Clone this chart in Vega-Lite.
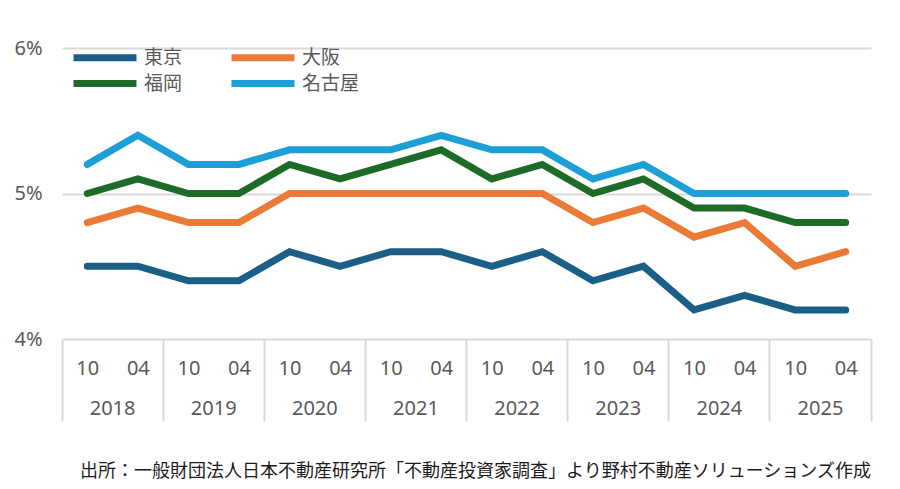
{
  "$schema": "https://vega.github.io/schema/vega-lite/v6.json",
  "width": 809,
  "height": 291,
  "autosize": {"type": "none"},
  "padding": {"left": 62, "top": 48, "right": 29, "bottom": 150},
  "background": "#ffffff",
  "title": {
    "text": "出所：一般財団法人日本不動産研究所「不動産投資家調査」より野村不動産ソリューションズ作成",
    "orient": "bottom",
    "anchor": "end",
    "frame": "group",
    "offset": 41,
    "font": "Noto Sans CJK JP",
    "fontSize": 18,
    "fontWeight": "normal",
    "color": "#1a1a1a"
  },
  "data": {
    "values": [
      {"period": "2018-10", "year": "2018", "city": "東京", "rate": 4.5},
      {"period": "2018-04", "year": "2018", "city": "東京", "rate": 4.5},
      {"period": "2019-10", "year": "2019", "city": "東京", "rate": 4.4},
      {"period": "2019-04", "year": "2019", "city": "東京", "rate": 4.4},
      {"period": "2020-10", "year": "2020", "city": "東京", "rate": 4.6},
      {"period": "2020-04", "year": "2020", "city": "東京", "rate": 4.5},
      {"period": "2021-10", "year": "2021", "city": "東京", "rate": 4.6},
      {"period": "2021-04", "year": "2021", "city": "東京", "rate": 4.6},
      {"period": "2022-10", "year": "2022", "city": "東京", "rate": 4.5},
      {"period": "2022-04", "year": "2022", "city": "東京", "rate": 4.6},
      {"period": "2023-10", "year": "2023", "city": "東京", "rate": 4.4},
      {"period": "2023-04", "year": "2023", "city": "東京", "rate": 4.5},
      {"period": "2024-10", "year": "2024", "city": "東京", "rate": 4.2},
      {"period": "2024-04", "year": "2024", "city": "東京", "rate": 4.3},
      {"period": "2025-10", "year": "2025", "city": "東京", "rate": 4.2},
      {"period": "2025-04", "year": "2025", "city": "東京", "rate": 4.2},

      {"period": "2018-10", "year": "2018", "city": "大阪", "rate": 4.8},
      {"period": "2018-04", "year": "2018", "city": "大阪", "rate": 4.9},
      {"period": "2019-10", "year": "2019", "city": "大阪", "rate": 4.8},
      {"period": "2019-04", "year": "2019", "city": "大阪", "rate": 4.8},
      {"period": "2020-10", "year": "2020", "city": "大阪", "rate": 5.0},
      {"period": "2020-04", "year": "2020", "city": "大阪", "rate": 5.0},
      {"period": "2021-10", "year": "2021", "city": "大阪", "rate": 5.0},
      {"period": "2021-04", "year": "2021", "city": "大阪", "rate": 5.0},
      {"period": "2022-10", "year": "2022", "city": "大阪", "rate": 5.0},
      {"period": "2022-04", "year": "2022", "city": "大阪", "rate": 5.0},
      {"period": "2023-10", "year": "2023", "city": "大阪", "rate": 4.8},
      {"period": "2023-04", "year": "2023", "city": "大阪", "rate": 4.9},
      {"period": "2024-10", "year": "2024", "city": "大阪", "rate": 4.7},
      {"period": "2024-04", "year": "2024", "city": "大阪", "rate": 4.8},
      {"period": "2025-10", "year": "2025", "city": "大阪", "rate": 4.5},
      {"period": "2025-04", "year": "2025", "city": "大阪", "rate": 4.6},

      {"period": "2018-10", "year": "2018", "city": "福岡", "rate": 5.0},
      {"period": "2018-04", "year": "2018", "city": "福岡", "rate": 5.1},
      {"period": "2019-10", "year": "2019", "city": "福岡", "rate": 5.0},
      {"period": "2019-04", "year": "2019", "city": "福岡", "rate": 5.0},
      {"period": "2020-10", "year": "2020", "city": "福岡", "rate": 5.2},
      {"period": "2020-04", "year": "2020", "city": "福岡", "rate": 5.1},
      {"period": "2021-10", "year": "2021", "city": "福岡", "rate": 5.2},
      {"period": "2021-04", "year": "2021", "city": "福岡", "rate": 5.3},
      {"period": "2022-10", "year": "2022", "city": "福岡", "rate": 5.1},
      {"period": "2022-04", "year": "2022", "city": "福岡", "rate": 5.2},
      {"period": "2023-10", "year": "2023", "city": "福岡", "rate": 5.0},
      {"period": "2023-04", "year": "2023", "city": "福岡", "rate": 5.1},
      {"period": "2024-10", "year": "2024", "city": "福岡", "rate": 4.9},
      {"period": "2024-04", "year": "2024", "city": "福岡", "rate": 4.9},
      {"period": "2025-10", "year": "2025", "city": "福岡", "rate": 4.8},
      {"period": "2025-04", "year": "2025", "city": "福岡", "rate": 4.8},

      {"period": "2018-10", "year": "2018", "city": "名古屋", "rate": 5.2},
      {"period": "2018-04", "year": "2018", "city": "名古屋", "rate": 5.4},
      {"period": "2019-10", "year": "2019", "city": "名古屋", "rate": 5.2},
      {"period": "2019-04", "year": "2019", "city": "名古屋", "rate": 5.2},
      {"period": "2020-10", "year": "2020", "city": "名古屋", "rate": 5.3},
      {"period": "2020-04", "year": "2020", "city": "名古屋", "rate": 5.3},
      {"period": "2021-10", "year": "2021", "city": "名古屋", "rate": 5.3},
      {"period": "2021-04", "year": "2021", "city": "名古屋", "rate": 5.4},
      {"period": "2022-10", "year": "2022", "city": "名古屋", "rate": 5.3},
      {"period": "2022-04", "year": "2022", "city": "名古屋", "rate": 5.3},
      {"period": "2023-10", "year": "2023", "city": "名古屋", "rate": 5.1},
      {"period": "2023-04", "year": "2023", "city": "名古屋", "rate": 5.2},
      {"period": "2024-10", "year": "2024", "city": "名古屋", "rate": 5.0},
      {"period": "2024-04", "year": "2024", "city": "名古屋", "rate": 5.0},
      {"period": "2025-10", "year": "2025", "city": "名古屋", "rate": 5.0},
      {"period": "2025-04", "year": "2025", "city": "名古屋", "rate": 5.0}
    ]
  },
  "encoding": {
    "y": {
      "field": "rate",
      "type": "quantitative",
      "scale": {"domain": [4, 6], "nice": false, "zero": false},
      "axis": {
        "title": null,
        "values": [4, 5, 6],
        "labelExpr": "datum.value + '%'",
        "grid": true,
        "gridColor": "#D9D9D9",
        "gridWidth": 2,
        "domain": false,
        "ticks": false,
        "tickSize": 0,
        "labelPadding": 20,
        "labelFont": "Noto Sans",
        "labelFontSize": 20,
        "labelColor": "#595959"
      }
    }
  },
  "layer": [
    {
      "mark": {"type": "line", "strokeWidth": 7, "strokeCap": "round", "strokeJoin": "miter"},
      "encoding": {
        "x": {
          "field": "period",
          "type": "ordinal",
          "sort": null,
          "scale": {"type": "point", "padding": 0.5},
          "axis": {
            "title": null,
            "orient": "bottom",
            "labelExpr": "slice(datum.label, 5)",
            "labelAngle": 0,
            "domain": false,
            "ticks": false,
            "tickSize": 0,
            "grid": false,
            "labelPadding": 19.5,
            "labelFont": "Noto Sans",
            "labelFontSize": 20,
            "labelColor": "#595959"
          }
        },
        "color": {
          "field": "city",
          "type": "nominal",
          "scale": {
            "domain": ["東京", "大阪", "福岡", "名古屋"],
            "range": ["#1B5E86", "#EB7A36", "#1E6B27", "#1B9FD6"]
          },
          "legend": {
            "title": null,
            "orient": "none",
            "legendX": 8,
            "legendY": 0,
            "direction": "horizontal",
            "columns": 2,
            "columnPadding": 45,
            "rowPadding": 6,
            "clipHeight": 19,
            "padding": 0,
            "symbolType": "stroke",
            "symbolSize": 3969,
            "symbolStrokeWidth": 7,
            "labelOffset": 4,
            "labelFont": "Noto Sans CJK JP",
            "labelFontSize": 19,
            "labelColor": "#595959"
          }
        }
      }
    },
    {
      "mark": {"type": "point", "opacity": 0},
      "encoding": {
        "x": {
          "field": "year",
          "type": "ordinal",
          "scale": {"type": "band", "paddingInner": 0, "paddingOuter": 0},
          "axis": {
            "title": null,
            "orient": "bottom",
            "labelAngle": 0,
            "bandPosition": 1,
            "tickExtra": true,
            "ticks": true,
            "tickSize": 82,
            "tickWidth": 2,
            "tickColor": "#D9D9D9",
            "domain": false,
            "grid": false,
            "labelPadding": -22.5,
            "labelOffset": 0,
            "labelFont": "Noto Sans",
            "labelFontSize": 20,
            "labelColor": "#595959"
          }
        }
      }
    }
  ],
  "resolve": {"scale": {"x": "independent"}, "axis": {"x": "independent"}},
  "config": {
    "view": {"stroke": null}
  }
}
